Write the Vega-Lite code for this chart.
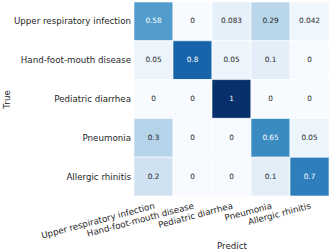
{
  "$schema": "https://vega.github.io/schema/vega-lite/v6.json",
  "autosize": {"type": "none"},
  "width": 195,
  "height": 194,
  "padding": {"left": 134, "top": 2, "right": 3, "bottom": 56},
  "background": "white",
  "config": {
    "view": {"stroke": null},
    "font": "DejaVu Sans"
  },
  "data": {
    "values": [
      {"t": "Upper respiratory infection", "p": "Upper respiratory infection", "v": 0.58, "label": "0.58"},
      {"t": "Upper respiratory infection", "p": "Hand-foot-mouth disease", "v": 0, "label": "0"},
      {"t": "Upper respiratory infection", "p": "Pediatric diarrhea", "v": 0.083, "label": "0.083"},
      {"t": "Upper respiratory infection", "p": "Pneumonia", "v": 0.29, "label": "0.29"},
      {"t": "Upper respiratory infection", "p": "Allergic rhinitis", "v": 0.042, "label": "0.042"},
      {"t": "Hand-foot-mouth disease", "p": "Upper respiratory infection", "v": 0.05, "label": "0.05"},
      {"t": "Hand-foot-mouth disease", "p": "Hand-foot-mouth disease", "v": 0.8, "label": "0.8"},
      {"t": "Hand-foot-mouth disease", "p": "Pediatric diarrhea", "v": 0.05, "label": "0.05"},
      {"t": "Hand-foot-mouth disease", "p": "Pneumonia", "v": 0.1, "label": "0.1"},
      {"t": "Hand-foot-mouth disease", "p": "Allergic rhinitis", "v": 0, "label": "0"},
      {"t": "Pediatric diarrhea", "p": "Upper respiratory infection", "v": 0, "label": "0"},
      {"t": "Pediatric diarrhea", "p": "Hand-foot-mouth disease", "v": 0, "label": "0"},
      {"t": "Pediatric diarrhea", "p": "Pediatric diarrhea", "v": 1, "label": "1"},
      {"t": "Pediatric diarrhea", "p": "Pneumonia", "v": 0, "label": "0"},
      {"t": "Pediatric diarrhea", "p": "Allergic rhinitis", "v": 0, "label": "0"},
      {"t": "Pneumonia", "p": "Upper respiratory infection", "v": 0.3, "label": "0.3"},
      {"t": "Pneumonia", "p": "Hand-foot-mouth disease", "v": 0, "label": "0"},
      {"t": "Pneumonia", "p": "Pediatric diarrhea", "v": 0, "label": "0"},
      {"t": "Pneumonia", "p": "Pneumonia", "v": 0.65, "label": "0.65"},
      {"t": "Pneumonia", "p": "Allergic rhinitis", "v": 0.05, "label": "0.05"},
      {"t": "Allergic rhinitis", "p": "Upper respiratory infection", "v": 0.2, "label": "0.2"},
      {"t": "Allergic rhinitis", "p": "Hand-foot-mouth disease", "v": 0, "label": "0"},
      {"t": "Allergic rhinitis", "p": "Pediatric diarrhea", "v": 0, "label": "0"},
      {"t": "Allergic rhinitis", "p": "Pneumonia", "v": 0.1, "label": "0.1"},
      {"t": "Allergic rhinitis", "p": "Allergic rhinitis", "v": 0.7, "label": "0.7"}
    ]
  },
  "encoding": {
    "x": {
      "field": "p", "type": "nominal",
      "sort": ["Upper respiratory infection", "Hand-foot-mouth disease", "Pediatric diarrhea", "Pneumonia", "Allergic rhinitis"],
      "scale": {"paddingInner": 0, "paddingOuter": 0},
      "axis": {
        "title": "Predict", "titleFont": "DejaVu Sans", "titleFontSize": 8.7, "titleFontWeight": "normal", "titleColor": "#262626",
        "titlePadding": 2,
        "labelAngle": -15, "labelAlign": "right", "labelBaseline": "top",
        "labelFont": "DejaVu Sans", "labelFontSize": 8.7, "labelColor": "#262626",
        "labelPadding": 5, "ticks": false, "domain": false, "labelLimit": 0
      }
    },
    "y": {
      "field": "t", "type": "nominal",
      "sort": ["Upper respiratory infection", "Hand-foot-mouth disease", "Pediatric diarrhea", "Pneumonia", "Allergic rhinitis"],
      "scale": {"paddingInner": 0, "paddingOuter": 0},
      "axis": {
        "title": "True", "titleFont": "DejaVu Sans", "titleFontSize": 8.7, "titleFontWeight": "normal", "titleColor": "#262626",
        "titlePadding": 2,
        "labelFont": "DejaVu Sans", "labelFontSize": 8.7, "labelColor": "#262626",
        "labelPadding": 3.5, "ticks": false, "domain": false, "labelLimit": 0
      }
    }
  },
  "layer": [
    {
      "mark": {"type": "rect", "stroke": "white", "strokeWidth": 0.6},
      "encoding": {
        "color": {
          "field": "v", "type": "quantitative", "legend": null,
          "scale": {
            "domain": [0, 0.125, 0.25, 0.375, 0.5, 0.625, 0.75, 0.875, 1],
            "range": ["#f7fbff", "#deebf7", "#c6dbef", "#9ecae1", "#6baed6", "#4292c6", "#2171b5", "#08519c", "#08306b"],
            "interpolate": "rgb"
          }
        }
      }
    },
    {
      "mark": {"type": "text", "font": "DejaVu Sans", "fontSize": 7.3},
      "encoding": {
        "text": {"field": "label"},
        "color": {
          "condition": {"test": "datum.v > 0.5", "value": "#ffffff"},
          "value": "#262626"
        }
      }
    }
  ]
}
